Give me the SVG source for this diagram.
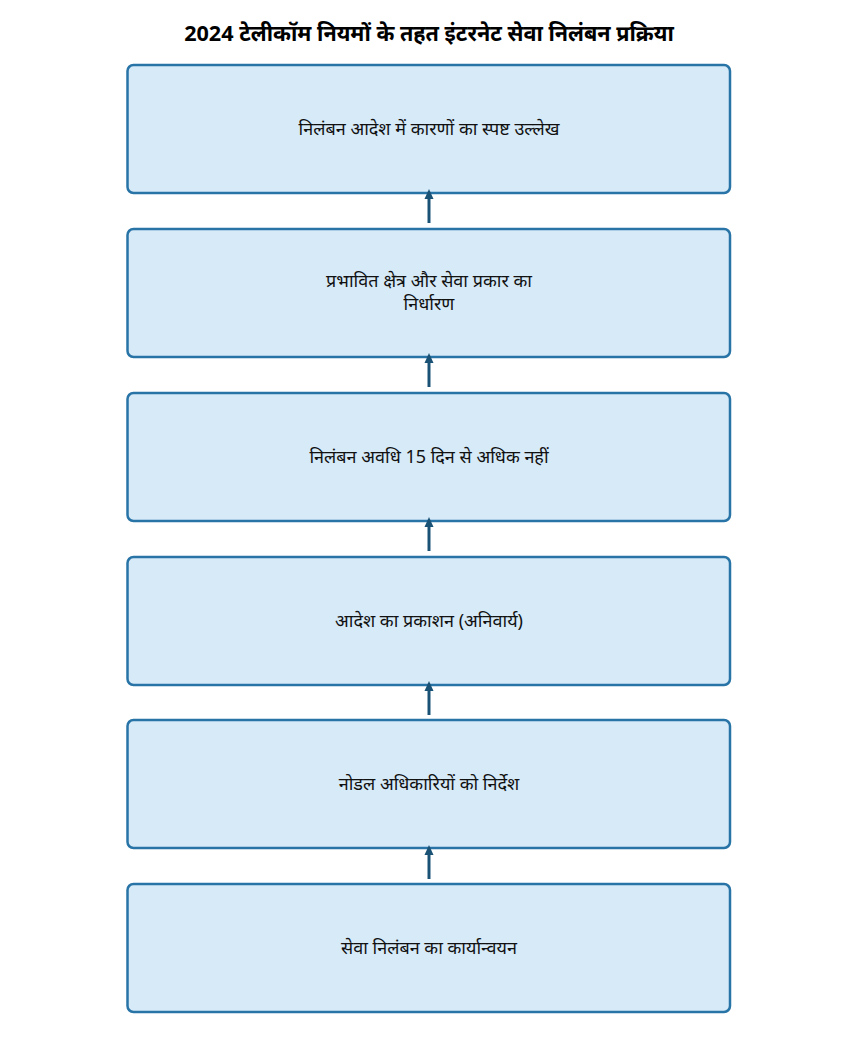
<svg xmlns="http://www.w3.org/2000/svg" width="858" height="1053" viewBox="0 0 858 1053">
<style>
.box{fill:#d6eaf8;stroke:#2874a6;stroke-width:2.5}
.t{font-family:"Noto Sans","Noto Sans Devanagari","Liberation Sans",sans-serif;font-size:18px;fill:#111;text-anchor:middle;dominant-baseline:central}
.title{font-family:"Noto Sans","Noto Sans Devanagari","Liberation Sans",sans-serif;font-size:21.6px;font-weight:bold;fill:#000;text-anchor:middle;dominant-baseline:central}
.conn{stroke:#1a5276;stroke-width:3;fill:none}
</style>
<defs>
<marker id="ah" markerWidth="10" markerHeight="10" refX="5" refY="5" orient="auto" markerUnits="userSpaceOnUse" viewBox="0 0 10 10">
<path d="M0,0.5 L10,5 L0,9.5 z" fill="#1a5276"/>
</marker>
</defs>
<rect width="858" height="1053" fill="#fff"/>
<text class="title" x="429" y="32">2024 टेलीकॉम नियमों के तहत इंटरनेट सेवा निलंबन प्रक्रिया</text>
<g id="n1"><rect class="box" x="127.5" y="65" width="602.5" height="128" rx="6"/><text class="t" x="429" y="128">निलंबन आदेश में कारणों का स्पष्ट उल्लेख</text></g>
<g id="n2"><rect class="box" x="127.5" y="229" width="602.5" height="128" rx="6"/><text class="t" x="429" y="280">प्रभावित क्षेत्र और सेवा प्रकार का</text><text class="t" x="429" y="303">निर्धारण</text></g>
<g id="n3"><rect class="box" x="127.5" y="393" width="602.5" height="128" rx="6"/><text class="t" x="429" y="456">निलंबन अवधि 15 दिन से अधिक नहीं</text></g>
<g id="n4"><rect class="box" x="127.5" y="557" width="602.5" height="128" rx="6"/><text class="t" x="429" y="620">आदेश का प्रकाशन (अनिवार्य)</text></g>
<g id="n5"><rect class="box" x="127.5" y="720" width="602.5" height="128" rx="6"/><text class="t" x="429" y="783">नोडल अधिकारियों को निर्देश</text></g>
<g id="n6"><rect class="box" x="127.5" y="884" width="602.5" height="128" rx="6"/><text class="t" x="429" y="947">सेवा निलंबन का कार्यान्वयन</text></g>
<g id="connectors">
<line class="conn" x1="429" y1="223" x2="429" y2="194" marker-end="url(#ah)"/>
<line class="conn" x1="429" y1="387" x2="429" y2="358" marker-end="url(#ah)"/>
<line class="conn" x1="429" y1="551" x2="429" y2="522" marker-end="url(#ah)"/>
<line class="conn" x1="429" y1="715" x2="429" y2="686" marker-end="url(#ah)"/>
<line class="conn" x1="429" y1="879" x2="429" y2="850" marker-end="url(#ah)"/>
</g>
</svg>
